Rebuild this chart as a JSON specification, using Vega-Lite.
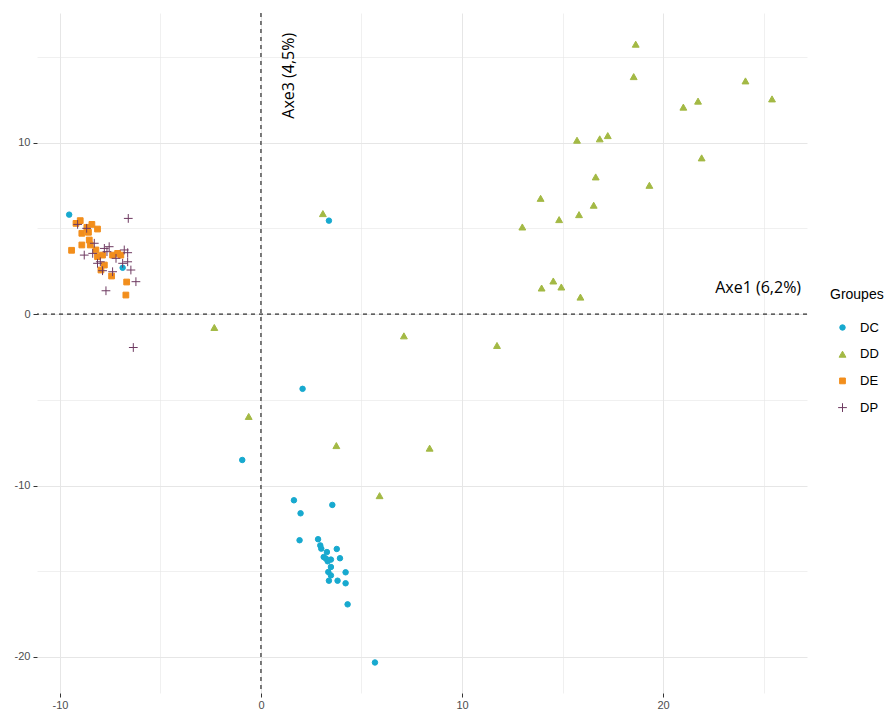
{
  "$schema": "https://vega.github.io/schema/vega-lite/v6.json",
  "width": 770,
  "height": 680,
  "autosize": {"type": "none"},
  "padding": {"left": 37, "top": 13, "right": 83, "bottom": 22},
  "background": "white",
  "config": {"view": {"stroke": null}, "font": "Liberation Sans"},
  "layer": [
    {
      "data": {"values": [{}]},
      "mark": {"type": "rule", "color": "black", "strokeDash": [4, 4], "strokeWidth": 1},
      "encoding": {"x": {"datum": 0, "type": "quantitative"}}
    },
    {
      "data": {"values": [{}]},
      "mark": {"type": "rule", "color": "black", "strokeDash": [4, 4], "strokeWidth": 1},
      "encoding": {"y": {"datum": 0, "type": "quantitative"}}
    },
    {
      "data": {"values": [
        {"x": -9.54, "y": 5.80, "g": "DC"},
        {"x": -6.88, "y": 2.70, "g": "DC"},
        {"x": 3.38, "y": 5.45, "g": "DC"},
        {"x": 2.07, "y": -4.36, "g": "DC"},
        {"x": -0.93, "y": -8.51, "g": "DC"},
        {"x": 1.64, "y": -10.86, "g": "DC"},
        {"x": 3.55, "y": -11.13, "g": "DC"},
        {"x": 1.97, "y": -11.62, "g": "DC"},
        {"x": 1.92, "y": -13.19, "g": "DC"},
        {"x": 2.84, "y": -13.13, "g": "DC"},
        {"x": 2.95, "y": -13.49, "g": "DC"},
        {"x": 3.00, "y": -13.68, "g": "DC"},
        {"x": 3.77, "y": -13.70, "g": "DC"},
        {"x": 3.28, "y": -13.88, "g": "DC"},
        {"x": 3.12, "y": -14.17, "g": "DC"},
        {"x": 3.23, "y": -14.26, "g": "DC"},
        {"x": 3.48, "y": -14.32, "g": "DC"},
        {"x": 3.32, "y": -14.42, "g": "DC"},
        {"x": 3.93, "y": -14.24, "g": "DC"},
        {"x": 3.48, "y": -14.75, "g": "DC"},
        {"x": 3.35, "y": -15.04, "g": "DC"},
        {"x": 3.48, "y": -15.24, "g": "DC"},
        {"x": 4.21, "y": -15.06, "g": "DC"},
        {"x": 3.38, "y": -15.55, "g": "DC"},
        {"x": 3.81, "y": -15.55, "g": "DC"},
        {"x": 4.21, "y": -15.70, "g": "DC"},
        {"x": 4.31, "y": -16.93, "g": "DC"},
        {"x": 5.67, "y": -20.32, "g": "DC"},
        {"x": 18.64, "y": 15.74, "g": "DD"},
        {"x": 18.54, "y": 13.85, "g": "DD"},
        {"x": 24.10, "y": 13.60, "g": "DD"},
        {"x": 25.42, "y": 12.55, "g": "DD"},
        {"x": 21.74, "y": 12.42, "g": "DD"},
        {"x": 21.01, "y": 12.07, "g": "DD"},
        {"x": 15.72, "y": 10.14, "g": "DD"},
        {"x": 16.85, "y": 10.22, "g": "DD"},
        {"x": 17.25, "y": 10.41, "g": "DD"},
        {"x": 21.92, "y": 9.11, "g": "DD"},
        {"x": 16.65, "y": 8.00, "g": "DD"},
        {"x": 19.32, "y": 7.51, "g": "DD"},
        {"x": 13.91, "y": 6.75, "g": "DD"},
        {"x": 16.55, "y": 6.35, "g": "DD"},
        {"x": 15.82, "y": 5.80, "g": "DD"},
        {"x": 14.83, "y": 5.51, "g": "DD"},
        {"x": 13.00, "y": 5.08, "g": "DD"},
        {"x": 14.54, "y": 1.93, "g": "DD"},
        {"x": 13.96, "y": 1.52, "g": "DD"},
        {"x": 14.94, "y": 1.58, "g": "DD"},
        {"x": 15.89, "y": 0.99, "g": "DD"},
        {"x": 3.08, "y": 5.86, "g": "DD"},
        {"x": -2.32, "y": -0.78, "g": "DD"},
        {"x": -0.61, "y": -5.97, "g": "DD"},
        {"x": 3.75, "y": -7.67, "g": "DD"},
        {"x": 7.11, "y": -1.27, "g": "DD"},
        {"x": 11.74, "y": -1.83, "g": "DD"},
        {"x": 8.39, "y": -7.82, "g": "DD"},
        {"x": 5.90, "y": -10.59, "g": "DD"},
        {"x": -8.99, "y": 5.45, "g": "DE"},
        {"x": -9.20, "y": 5.29, "g": "DE"},
        {"x": -8.41, "y": 5.23, "g": "DE"},
        {"x": -8.66, "y": 5.06, "g": "DE"},
        {"x": -8.13, "y": 4.96, "g": "DE"},
        {"x": -8.91, "y": 4.71, "g": "DE"},
        {"x": -8.58, "y": 4.77, "g": "DE"},
        {"x": -9.42, "y": 3.72, "g": "DE"},
        {"x": -8.91, "y": 4.03, "g": "DE"},
        {"x": -8.54, "y": 4.32, "g": "DE"},
        {"x": -8.49, "y": 4.03, "g": "DE"},
        {"x": -8.21, "y": 3.74, "g": "DE"},
        {"x": -8.13, "y": 3.35, "g": "DE"},
        {"x": -7.88, "y": 3.44, "g": "DE"},
        {"x": -7.38, "y": 3.44, "g": "DE"},
        {"x": -7.79, "y": 2.86, "g": "DE"},
        {"x": -7.43, "y": 2.22, "g": "DE"},
        {"x": -6.97, "y": 3.44, "g": "DE"},
        {"x": -7.13, "y": 3.54, "g": "DE"},
        {"x": -6.68, "y": 1.87, "g": "DE"},
        {"x": -6.72, "y": 1.11, "g": "DE"},
        {"x": -7.96, "y": 2.57, "g": "DE"},
        {"x": -6.60, "y": 5.58, "g": "DP"},
        {"x": -9.12, "y": 5.23, "g": "DP"},
        {"x": -8.67, "y": 5.00, "g": "DP"},
        {"x": -8.29, "y": 4.13, "g": "DP"},
        {"x": -8.79, "y": 3.44, "g": "DP"},
        {"x": -8.37, "y": 3.54, "g": "DP"},
        {"x": -7.79, "y": 3.83, "g": "DP"},
        {"x": -7.55, "y": 3.93, "g": "DP"},
        {"x": -7.66, "y": 3.64, "g": "DP"},
        {"x": -7.99, "y": 3.05, "g": "DP"},
        {"x": -7.88, "y": 2.53, "g": "DP"},
        {"x": -7.38, "y": 2.47, "g": "DP"},
        {"x": -6.80, "y": 3.74, "g": "DP"},
        {"x": -6.63, "y": 3.58, "g": "DP"},
        {"x": -6.63, "y": 3.05, "g": "DP"},
        {"x": -6.88, "y": 2.96, "g": "DP"},
        {"x": -6.47, "y": 2.57, "g": "DP"},
        {"x": -6.22, "y": 1.89, "g": "DP"},
        {"x": -7.71, "y": 1.36, "g": "DP"},
        {"x": -6.35, "y": -1.95, "g": "DP"},
        {"x": -8.13, "y": 2.96, "g": "DP"},
        {"x": -7.21, "y": 3.25, "g": "DP"}
      ]},
      "mark": {"type": "point", "filled": true, "size": 30, "strokeWidth": 1, "opacity": 1},
      "encoding": {
        "x": {
          "field": "x", "type": "quantitative",
          "scale": {"domain": [-11.14, 27.16], "nice": false, "zero": false},
          "axis": {
            "values": [-10, -5, 0, 5, 10, 15, 20, 25],
            "title": null, "domain": false, "grid": true,
            "labelExpr": "datum.value % 10 === 0 ? '' + datum.value : ''",
            "labelFont": "Liberation Sans", "labelFontSize": 11, "labelColor": "#4d4d4d",
            "labelPadding": 2, "tickSize": 4, "tickColor": "#333333",
            "tickOpacity": {"condition": {"test": "datum.value % 10 !== 0", "value": 0}, "value": 1},
            "gridColor": "#e6e6e6",
            "gridOpacity": {"condition": {"test": "datum.value % 10 !== 0", "value": 0.6}, "value": 1},
            "gridWidth": 1
          }
        },
        "y": {
          "field": "y", "type": "quantitative",
          "scale": {"domain": [-22.1, 17.56], "nice": false, "zero": false},
          "axis": {
            "values": [-20, -15, -10, -5, 0, 5, 10, 15],
            "title": null, "domain": false, "grid": true,
            "labelExpr": "datum.value % 10 === 0 ? '' + datum.value : ''",
            "labelFont": "Liberation Sans", "labelFontSize": 11, "labelColor": "#4d4d4d",
            "labelPadding": 3, "tickSize": 4, "tickColor": "#333333",
            "tickOpacity": {"condition": {"test": "datum.value % 10 !== 0", "value": 0}, "value": 1},
            "gridColor": "#e6e6e6",
            "gridOpacity": {"condition": {"test": "datum.value % 10 !== 0", "value": 0.6}, "value": 1},
            "gridWidth": 1
          }
        },
        "color": {
          "field": "g", "type": "nominal",
          "scale": {"domain": ["DC", "DD", "DE", "DP"], "range": ["#17a9cf", "#a3b944", "#f28e1c", "#6e3a61"]},
          "legend": {
            "orient": "none", "legendX": 793, "legendY": 275, "padding": 0,
            "title": "Groupes", "titleFont": "Liberation Sans", "titleFontSize": 14, "titleFontWeight": "normal", "titleColor": "black",
            "titlePadding": 19,
            "labelFont": "Liberation Sans", "labelFontSize": 13, "labelColor": "black",
            "symbolSize": 30, "symbolStrokeWidth": 1, "rowPadding": 12.7, "symbolOffset": 6, "labelOffset": 11
          }
        },
        "stroke": {
          "field": "g", "type": "nominal",
          "scale": {"domain": ["DC", "DD", "DE", "DP"], "range": ["#17a9cf", "#a3b944", "#f28e1c", "#6e3a61"]}
        },
        "shape": {
          "field": "g", "type": "nominal",
          "scale": {"domain": ["DC", "DD", "DE", "DP"], "range": ["circle", "M0,-1.1L1.25,1.1L-1.25,1.1Z", "M-1.05,-1.05H1.05V1.05H-1.05Z", "M-1.6,0H1.6M0,-1.6V1.6"]}
        }
      }
    },
    {
      "data": {"values": [{}]},
      "mark": {"type": "text", "text": "Axe1 (6,2%)", "font": "Open Sans", "fontSize": 16, "align": "center", "baseline": "middle", "color": "black"},
      "encoding": {"x": {"datum": 24.73, "type": "quantitative"}, "y": {"datum": 1.52, "type": "quantitative"}}
    },
    {
      "data": {"values": [{}]},
      "mark": {"type": "text", "text": "Axe3 (4,5%)", "font": "Open Sans", "fontSize": 16, "align": "center", "baseline": "middle", "angle": 270, "color": "black"},
      "encoding": {"x": {"datum": 1.39, "type": "quantitative"}, "y": {"datum": 13.9, "type": "quantitative"}}
    }
  ]
}
